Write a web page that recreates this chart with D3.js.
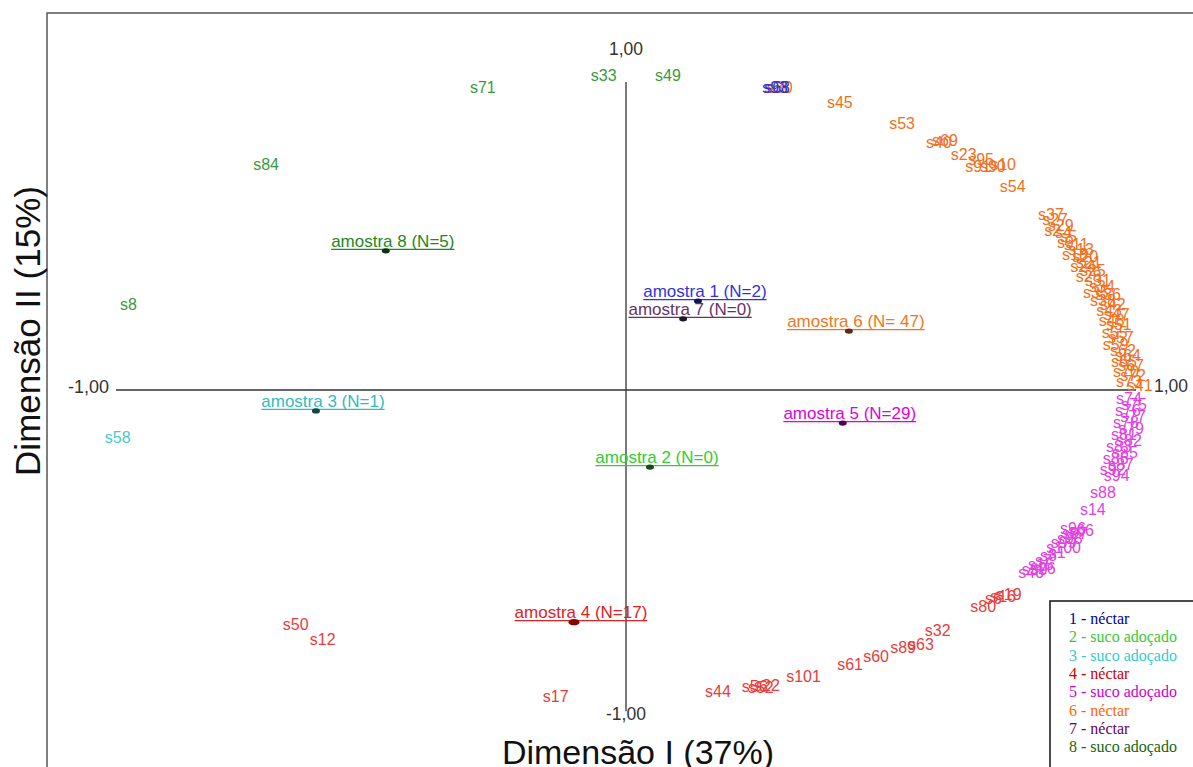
<!DOCTYPE html>
<html>
<head>
<meta charset="utf-8">
<script src="https://cdn.jsdelivr.net/npm/d3@7"></script>
<style>
  html, body { margin: 0; padding: 0; background: #fff; }
  svg { display: block; }
</style>
</head>
<body>
<svg id="chart" width="1193" height="767"></svg>
<script>
// ---------------- DATA ----------------
const groupIds = [1, 2, 3, 4, 5, 6, 7, 8];
const groupNames = ["néctar", "suco adoçado", "suco adoçado", "néctar", "suco adoçado", "néctar", "néctar", "suco adoçado"];
const centroidLabels = ["amostra 1 (N=2)", "amostra 2 (N=0)", "amostra 3 (N=1)", "amostra 4 (N=17)",
                        "amostra 5 (N=29)", "amostra 6 (N= 47)", "amostra 7 (N=0)", "amostra 8 (N=5)"];
const centroidX = [0.141, 0.047, -0.608, -0.102, 0.425, 0.437, 0.112, -0.471];
const centroidY = [0.285, -0.247, -0.067, -0.744, -0.106, 0.189, 0.228, 0.446];

// object scores (label, dimension I, dimension II, group)
const objLabel = [
  // group 8
  "s71", "s33", "s49", "s84", "s8",
  // group 3
  "s58",
  // group 4
  "s50", "s12", "s17", "s44", "s56", "s52", "s22", "s101", "s61", "s60", "s89", "s63", "s32", "s80", "s6", "s16", "s19",
  // group 5
  "s88", "s14", "s66",
  "s74", "s75", "s76", "s77", "s78", "s79", "s81", "s82", "s83", "s85", "s86", "s87", "s92", "s94",
  "s96", "s97", "s98", "s99", "s100", "s1", "s3", "s7", "s15", "s26", "s39", "s46",
  // group 6
  "s30", "s45", "s53", "s40", "s69", "s23", "s95", "s91", "s90", "s10", "s54", "s37",
  "s27", "s29", "s2", "s4", "s5", "s9", "s11", "s13", "s18", "s20", "s21", "s24", "s25", "s28",
  "s31", "s34", "s35", "s36", "s38", "s42", "s43", "s47", "s48", "s51", "s55", "s57", "s59",
  "s62", "s64", "s65", "s67", "s70", "s72", "s73", "s41",
  // group 1
  "s93", "s68"
];
const objX = [
  -0.306, -0.069, 0.057, -0.731, -0.992,
  -1.022,
  -0.673, -0.620, -0.163, 0.155, 0.227, 0.239, 0.251, 0.314, 0.414, 0.465, 0.518, 0.553, 0.586, 0.675, 0.704, 0.714, 0.725,
  0.910, 0.890, 0.867,
  0.961, 0.971, 0.959, 0.969, 0.955, 0.965, 0.951, 0.961, 0.941, 0.953, 0.935, 0.945, 0.929, 0.937,
  0.851, 0.855, 0.845, 0.833, 0.824, 0.829, 0.812, 0.802, 0.788, 0.792, 0.776, 0.769,
  0.276, 0.394, 0.516, 0.588, 0.600, 0.637, 0.671, 0.665, 0.694, 0.714, 0.733, 0.808,
  0.816, 0.827, 0.820, 0.841, 0.851, 0.845, 0.859, 0.867, 0.855, 0.875, 0.882, 0.871, 0.890, 0.882,
  0.900, 0.908, 0.896, 0.920, 0.910, 0.929, 0.922, 0.937, 0.927, 0.941, 0.933, 0.945, 0.935,
  0.949, 0.959, 0.951, 0.965, 0.955, 0.969, 0.961, 0.982,
  0.267, 0.271
];
const objY = [
  0.952, 0.990, 0.990, 0.705, 0.256,
  -0.170,
  -0.769, -0.817, -1.000, -0.984, -0.968, -0.971, -0.965, -0.936, -0.897, -0.872, -0.843, -0.833, -0.788, -0.712, -0.686, -0.679, -0.673,
  -0.346, -0.401, -0.468,
  -0.045, -0.064, -0.083, -0.103, -0.122, -0.141, -0.160, -0.179, -0.199, -0.218, -0.237, -0.256, -0.272, -0.292,
  -0.462, -0.478, -0.494, -0.506, -0.522, -0.538, -0.548, -0.564, -0.577, -0.590, -0.593, -0.603,
  0.952, 0.904, 0.837, 0.776, 0.782, 0.737, 0.721, 0.699, 0.699, 0.705, 0.635, 0.545,
  0.529, 0.510, 0.494, 0.487, 0.474, 0.455, 0.449, 0.433, 0.417, 0.410, 0.391, 0.378, 0.365, 0.346,
  0.333, 0.314, 0.295, 0.288, 0.269, 0.256, 0.237, 0.224, 0.205, 0.192, 0.167, 0.151, 0.128,
  0.109, 0.093, 0.074, 0.061, 0.042, 0.029, 0.010, -0.003,
  0.952, 0.952
];
const objGroupCounts = [[8, 5], [3, 1], [4, 17], [5, 29], [6, 47], [1, 2]];
const axisTicks = [-1, 1];

// ---------------- STYLE ----------------
const legendColor = {1: "#000099", 2: "#33cc33", 3: "#33cccc", 4: "#cc0000", 5: "#cc00cc", 6: "#ff6600", 7: "#660066", 8: "#116611"};
const centroidColor = {1: "#3333dd", 2: "#33cc33", 3: "#33bbbb", 4: "#dd2222", 5: "#dd00dd", 6: "#ee7722", 7: "#663366", 8: "#228822"};
const objColor = {1: "#3333cc", 2: "#44cc44", 3: "#44cccc", 4: "#e83c3c", 5: "#e040e0", 6: "#f07020", 7: "#884488", 8: "#3a9a3a"};

const objGroup = [];
objGroupCounts.forEach(([g, n]) => { for (let i = 0; i < n; i++) objGroup.push(g); });

const svg = d3.select("#chart");
const W = 1193, H = 767;
svg.append("rect").attr("width", W).attr("height", H).attr("fill", "#fff");

const x = d3.scaleLinear().domain([-1, 1]).range([116, 1136]);
const y = d3.scaleLinear().domain([-1, 1]).range([702, 78]);

const loc = d3.formatLocale({decimal: ",", thousands: ".", grouping: [3], currency: ["", ""], minus: "-"});
const fmt = loc.format(".2f");

// frame
svg.append("path").attr("d", `M47,${H} V13 H${W}`).attr("fill", "none").attr("stroke", "#555").attr("stroke-width", 1.5);

// axes
svg.append("line").attr("x1", x(-1)).attr("x2", x(1)).attr("y1", y(0)).attr("y2", y(0))
  .attr("stroke", "#333").attr("stroke-width", 1.3);
svg.append("line").attr("x1", x(0)).attr("x2", x(0)).attr("y1", y(0.987)).attr("y2", y(-1.03))
  .attr("stroke", "#333").attr("stroke-width", 1.3);

const tickFont = "'Liberation Sans', Arial, sans-serif";
// horizontal tick labels
svg.append("text").attr("x", x(axisTicks[0]) - 7).attr("y", y(0) + 3).attr("text-anchor", "end")
  .attr("font-family", tickFont).attr("font-size", 18).attr("fill", "#333").text(fmt(axisTicks[0]));
svg.append("text").attr("x", x(axisTicks[1]) + 18).attr("y", y(0) + 2).attr("text-anchor", "start")
  .attr("font-family", tickFont).attr("font-size", 17.5).attr("fill", "#333").text(fmt(axisTicks[1]));
// vertical tick labels
svg.append("text").attr("x", x(0)).attr("y", y(axisTicks[1]) - 23).attr("text-anchor", "middle")
  .attr("font-family", tickFont).attr("font-size", 17.5).attr("fill", "#333").text(fmt(axisTicks[1]));
svg.append("text").attr("x", x(0)).attr("y", y(axisTicks[0]) + 18).attr("text-anchor", "middle")
  .attr("font-family", tickFont).attr("font-size", 17.5).attr("fill", "#333").text(fmt(axisTicks[0]));

// axis titles
svg.append("text").attr("x", 638).attr("y", 764).attr("text-anchor", "middle")
  .attr("font-family", tickFont).attr("font-size", 34).attr("fill", "#111").text("Dimensão I (37%)");
svg.append("text").attr("transform", "translate(40,331) rotate(-90)").attr("text-anchor", "middle")
  .attr("font-family", tickFont).attr("font-size", 35).attr("fill", "#111").text("Dimensão II (15%)");

// object labels
const objs = objLabel.map((l, i) => ({l, x: objX[i], y: objY[i], g: objGroup[i]}));
svg.append("g").selectAll("text").data(objs).join("text")
  .attr("x", d => x(d.x)).attr("y", d => y(d.y))
  .attr("font-family", tickFont).attr("font-size", 16)
  .attr("fill", d => objColor[d.g])
  .text(d => d.l);

// centroids
const cents = groupIds.map((g, i) => ({g, label: centroidLabels[i], x: centroidX[i], y: centroidY[i]}));
const cg = svg.append("g");
cents.forEach(d => {
  const col = centroidColor[d.g];
  const cx = x(d.x), cy = y(d.y);
  const t = cg.append("text").attr("x", cx + 7).attr("y", cy - 4).attr("text-anchor", "middle")
    .attr("font-family", tickFont).attr("font-size", 17).attr("fill", col).text(d.label);
  const len = t.node().getComputedTextLength();
  cg.append("line").attr("x1", cx + 7 - len / 2).attr("x2", cx + 7 + len / 2)
    .attr("y1", cy - 1.5).attr("y2", cy - 1.5).attr("stroke", col).attr("stroke-width", 1.2);
  cg.append("ellipse").attr("cx", cx).attr("cy", cy)
    .attr("rx", d.g === 4 ? 5.5 : 4).attr("ry", d.g === 4 ? 3.2 : 2.6)
    .attr("fill", d.g === 4 ? "#880000" : d3.color(col).darker(2.8));
});

// legend
const lg = svg.append("g");
lg.append("rect").attr("x", 1050).attr("y", 601).attr("width", 170).attr("height", 200)
  .attr("fill", "#fff").attr("stroke", "#111").attr("stroke-width", 1.5);
groupIds.forEach((g, i) => {
  lg.append("text").attr("x", 1069).attr("y", 624 + i * 18.3)
    .attr("font-family", "'Liberation Serif', 'Times New Roman', serif").attr("font-size", 16)
    .attr("fill", legendColor[g]).text(`${g} - ${groupNames[i]}`);
});
</script>
</body>
</html>
